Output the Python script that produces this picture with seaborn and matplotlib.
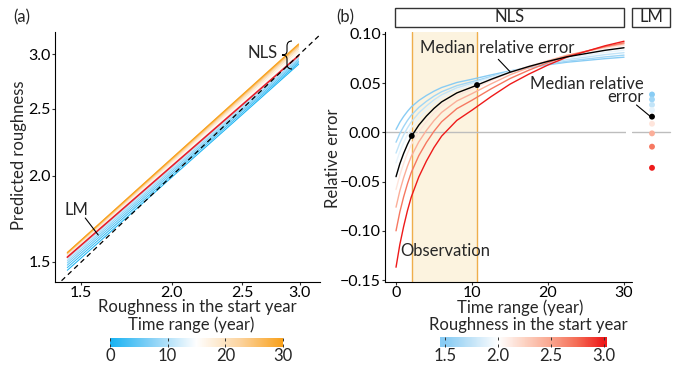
import numpy as np
import pandas as pd
import matplotlib
matplotlib.use("Agg")
import matplotlib.pyplot as plt
import seaborn as sns
from matplotlib.colors import LinearSegmentedColormap, Normalize
from matplotlib.ticker import FixedLocator, FixedFormatter, NullLocator
from matplotlib.patches import Rectangle, PathPatch
from matplotlib.path import Path
from matplotlib.lines import Line2D

# ---------------- data: panel (a) ----------------
a_time = [0, 2, 4, 6, 8, 10, 12, 14, 16, 18, 20, 22, 24, 26, 28, 30]
a_start = [1.435, 2.99]
a_pred_low = [1.459, 1.472, 1.484, 1.495, 1.505, 1.514, 1.521, 1.527,
              1.532, 1.536, 1.539, 1.542, 1.544, 1.546, 1.547, 1.548]
a_pred_high = [2.900, 2.915, 2.930, 2.945, 2.958, 2.970, 2.982, 2.994,
               3.010, 3.030, 3.050, 3.066, 3.080, 3.090, 3.098, 3.104]
lm_line_pred = [1.524, 2.985]
a_ticks = [1.5, 2.0, 2.5, 3.0]
a_ticklabels = ["1.5", "2.0", "2.5", "3.0"]

# ---------------- data: panel (b) ----------------
b_time = [0, 0.5, 1, 1.5, 2, 3, 4, 5, 6, 8, 10, 12.5, 15, 17.5, 20, 22.5, 25, 27.5, 30]
b_roughness = [1.5, 1.6, 1.75, 1.9, 2.15, 2.45, 2.7, 3.0]
err_r150 = [0.0030, 0.0103, 0.0162, 0.0213, 0.0258, 0.0324, 0.0375, 0.0419, 0.0456, 0.0507,
            0.0540, 0.0584, 0.0625, 0.0658, 0.0687, 0.0713, 0.0731, 0.0749, 0.0764]
err_r160 = [-0.0100, -0.0012, 0.0059, 0.0121, 0.0174, 0.0254, 0.0316, 0.0369, 0.0413, 0.0475,
            0.0515, 0.0568, 0.0617, 0.0657, 0.0692, 0.0723, 0.0745, 0.0767, 0.0785]
err_r175 = [-0.0210, -0.0108, -0.0026, 0.0045, 0.0106, 0.0198, 0.0269, 0.0331, 0.0382, 0.0453,
            0.0499, 0.0560, 0.0616, 0.0662, 0.0703, 0.0739, 0.0764, 0.0790, 0.0810]
err_r190 = [-0.0310, -0.0196, -0.0104, -0.0024, 0.0045, 0.0148, 0.0228, 0.0297, 0.0354, 0.0434,
            0.0486, 0.0554, 0.0617, 0.0669, 0.0715, 0.0755, 0.0783, 0.0812, 0.0835]
err_r215 = [-0.0580, -0.0434, -0.0316, -0.0214, -0.0126, 0.0006, 0.0109, 0.0196, 0.0270, 0.0372,
            0.0438, 0.0526, 0.0607, 0.0673, 0.0731, 0.0782, 0.0819, 0.0856, 0.0885]
err_r245 = [-0.0760, -0.0594, -0.0461, -0.0345, -0.0245, -0.0096, 0.0020, 0.0120, 0.0203, 0.0319,
            0.0394, 0.0493, 0.0585, 0.0659, 0.0726, 0.0784, 0.0825, 0.0867, 0.0900]
err_r270 = [-0.1000, -0.0809, -0.0656, -0.0523, -0.0408, -0.0236, -0.0102, 0.0012, 0.0108, 0.0241,
            0.0327, 0.0442, 0.0547, 0.0633, 0.0709, 0.0776, 0.0824, 0.0872, 0.0910]
err_r300 = [-0.1370, -0.1140, -0.0957, -0.0796, -0.0658, -0.0452, -0.0291, -0.0153, -0.0038, 0.0122,
            0.0226, 0.0363, 0.0490, 0.0593, 0.0685, 0.0765, 0.0823, 0.0880, 0.0926]
err_median = [-0.0450, -0.0319, -0.0214, -0.0123, -0.0044, 0.0074, 0.0166, 0.0244, 0.0310, 0.0401,
              0.0460, 0.0539, 0.0611, 0.0670, 0.0722, 0.0768, 0.0801, 0.0834, 0.0860]
obs_bounds = [2.07, 10.66]
median_at_obs = [-0.0036, 0.0481]
lm_err = [0.0385, 0.0335, 0.0280, 0.0226, 0.0088, -0.0010, -0.0145, -0.0360]
lm_median = 0.016
b_xticks = [0, 10, 20, 30]
b_yticks = [0.10, 0.05, 0.00, -0.05, -0.10, -0.15]
b_yticklabels = ["0.10", "0.05", "0.00", "\u22120.05", "\u22120.10", "\u22120.15"]
rough_ticks = [1.5, 2.0, 2.5, 3.0]
rough_ticklabels = ["1.5", "2.0", "2.5", "3.0"]

# ---------------- style ----------------
sns.set_style("white")
plt.rcParams['font.family'] = ['Lato', 'DejaVu Sans']
FS = 12
TFS = 11.5

time_cmap = LinearSegmentedColormap.from_list(
    "time", [(0.0, "#17B3F3"), (0.25, "#8DD3F7"), (0.5, "#FFFFFF"),
             (0.75, "#FCD4A0"), (1.0, "#F9A11B")])
rough_cmap = LinearSegmentedColormap.from_list(
    "rough", [(0.0, "#88CCF4"), (1/6, "#C3E4F8"), (1/3, "#FFFFFF"), (0.5, "#FDD3C3"),
              (2/3, "#FAA68F"), (5/6, "#F56C55"), (1.0, "#EE1A1A")])
rough_norm = Normalize(1.5, 3.0)

W, H = 682, 368
fig = plt.figure(figsize=(W / 100, H / 100), dpi=100)


def rect(x0, y0, x1, y1):
    return [x0 / W, 1 - y1 / H, (x1 - x0) / W, (y1 - y0) / H]


def fp(x, y):
    return (x / W, 1 - y / H)


# ---------------- panel (a) ----------------
ax_a = fig.add_axes(rect(55, 32, 320, 282))
rows = []
for t, lo, hi in zip(a_time, a_pred_low, a_pred_high):
    rows.append({"start": a_start[0], "pred": lo, "time": t})
    rows.append({"start": a_start[1], "pred": hi, "time": t})
df_a = pd.DataFrame(rows)
sns.lineplot(data=df_a, x="start", y="pred", hue="time", palette=time_cmap,
             hue_norm=(0, 30), units="time", estimator=None, legend=False,
             linewidth=0.75, ax=ax_a)
sns.lineplot(x=a_start, y=lm_line_pred, color="#E8202A", linewidth=1.2, ax=ax_a)
ax_a.plot([1.3, 3.5], [1.3, 3.5], color="black", linestyle=(0, (4, 3)), linewidth=0.9)
ax_a.set_xscale("log")
ax_a.set_yscale("log")
ax_a.set_xlim(1.38, 3.2)
ax_a.set_ylim(1.403, 3.23)
for axis in (ax_a.xaxis, ax_a.yaxis):
    axis.set_major_locator(FixedLocator(a_ticks))
    axis.set_major_formatter(FixedFormatter(a_ticklabels))
    axis.set_minor_locator(NullLocator())
ax_a.set_xlabel("")
ax_a.set_ylabel("")
# LM annotation
ax_a.plot([1.519, 1.583], [1.737, 1.641], color="black", linewidth=0.8)
ax_a.text(1.476, 1.784, "LM", fontsize=FS, ha="center", va="center")

# ---------------- panel (b) NLS ----------------
ax_b = fig.add_axes(rect(385, 32, 626, 282))
ax_b.axvspan(obs_bounds[0], obs_bounds[1], facecolor="#FCF3DF", edgecolor="none", zorder=0)
for xb in obs_bounds:
    ax_b.axvline(xb, color="#EFAE4C", linewidth=1.0, zorder=0.5)
ax_b.axhline(0, color="#BDBDBD", linewidth=1.0, zorder=0.6)
curves = [err_r150, err_r160, err_r175, err_r190, err_r215, err_r245, err_r270, err_r300]
rows = []
for r, c in zip(b_roughness, curves):
    for t, v in zip(b_time, c):
        rows.append({"time": t, "err": v, "roughness": r})
df_b = pd.DataFrame(rows)
sns.lineplot(data=df_b, x="time", y="err", hue="roughness", palette=rough_cmap,
             hue_norm=rough_norm, units="roughness", estimator=None, legend=False,
             linewidth=1.0, ax=ax_b)
sns.lineplot(x=b_time, y=err_median, color="black", linewidth=1.0, ax=ax_b)
sns.scatterplot(x=obs_bounds, y=median_at_obs, color="black", s=18, edgecolor="none",
                ax=ax_b, zorder=5)
ax_b.set_xlim(-1.45, 30.26)
ax_b.set_ylim(-0.152, 0.102)
ax_b.xaxis.set_major_locator(FixedLocator(b_xticks))
ax_b.yaxis.set_major_locator(FixedLocator(b_yticks))
ax_b.yaxis.set_major_formatter(FixedFormatter(b_yticklabels))
ax_b.set_xlabel("")
ax_b.set_ylabel("")
ax_b.text(13.29, 0.0858, "Median relative error", fontsize=FS, ha="center", va="center")
ax_b.plot([13.46, 15.0], [0.0742, 0.0617], color="black", linewidth=0.8)
ax_b.text(0.55, -0.121, "Observation", fontsize=FS, ha="left", va="center")

# ---------------- panel (b) LM ----------------
ax_lm = fig.add_axes(rect(632, 32, 672, 282))
ax_lm.axhline(0, color="#BDBDBD", linewidth=1.0, xmin=0, xmax=0.95)
sns.scatterplot(x=[0] * len(lm_err), y=lm_err, hue=b_roughness, palette=rough_cmap,
                hue_norm=rough_norm, s=18, edgecolor="none", legend=False, ax=ax_lm, zorder=3)
sns.scatterplot(x=[0], y=[lm_median], color="black", s=18, edgecolor="none", ax=ax_lm, zorder=4)
ax_lm.set_xlim(-1, 1)
ax_lm.set_ylim(-0.152, 0.102)
ax_lm.axis("off")

# ---------------- axes styling ----------------
for ax in (ax_a, ax_b):
    sns.despine(ax=ax)
    for s in ("left", "bottom"):
        ax.spines[s].set_color("black")
        ax.spines[s].set_linewidth(0.8)
    ax.tick_params(axis="both", direction="out", length=2, width=0.8, color="#333333",
                   labelsize=TFS, labelcolor="black", pad=1, left=True, bottom=True)
fig.add_artist(Line2D([626 / W, 632 / W], [1 - 282 / H, 1 - 282 / H], color="black", linewidth=0.8))

# ---------------- strips ----------------
for (x0, x1, lab) in [(395, 624, "NLS"), (632, 670, "LM")]:
    fig.add_artist(Rectangle(fp(x0, 27), (x1 - x0) / W, 19 / H, transform=fig.transFigure,
                             facecolor="white", edgecolor="#333333", linewidth=1.0))
    fig.text((x0 + x1) / 2 / W, 1 - 17.5 / H, lab, fontsize=FS, ha="center", va="center")

# ---------------- brace + NLS label in (a) ----------------
verts = [fp(292, 41), fp(287, 41), fp(287, 46), fp(287, 51),
         fp(287, 55), fp(282, 55), fp(287, 55), fp(287, 59),
         fp(287, 64), fp(287, 69), fp(292, 69)]
codes = [Path.MOVETO, Path.CURVE3, Path.CURVE3, Path.LINETO,
         Path.CURVE3, Path.CURVE3, Path.CURVE3, Path.CURVE3,
         Path.LINETO, Path.CURVE3, Path.CURVE3]
fig.add_artist(PathPatch(Path(verts, codes), transform=fig.transFigure, facecolor="none",
                         edgecolor="black", linewidth=0.8))
fig.text(278 / W, 1 - 53 / H, "NLS", fontsize=FS, ha="right", va="center")

# ---------------- LM panel annotation ----------------
fig.text(644 / W, 1 - 101.5 / H, "Median relative\nerror", fontsize=FS, ha="right",
         multialignment="right", va="baseline", linespacing=0.72)
fig.add_artist(Line2D([636.5 / W, 651 / W], [1 - 105 / H, 1 - 117 / H], color="black", linewidth=0.8))

# ---------------- labels ----------------
fig.text(13 / W, 1 - 17 / H, "(a)", fontsize=FS, ha="left", va="center")
fig.text(336 / W, 1 - 17 / H, "(b)", fontsize=FS, ha="left", va="center")
fig.text(19 / W, 1 - 155 / H, "Predicted roughness", fontsize=FS, rotation=90, ha="center", va="center")
fig.text(333 / W, 1 - 158 / H, "Relative error", fontsize=FS, rotation=90, ha="center", va="center")
fig.text(197 / W, 1 - 307 / H, "Roughness in the start year", fontsize=FS, ha="center", va="center")
fig.text(520 / W, 1 - 308 / H, "Time range (year)", fontsize=FS, ha="center", va="center")
fig.text(191 / W, 1 - 325 / H, "Time range (year)", fontsize=FS, ha="center", va="center")
fig.text(528 / W, 1 - 325 / H, "Roughness in the start year", fontsize=FS, ha="center", va="center")

# ---------------- colorbars ----------------
def colorbar(box, lo, hi, cmap, norm, ticks, labels):
    cax = fig.add_axes(rect(*box))
    grad = np.linspace(lo, hi, 256)[None, :]
    cax.imshow(grad, aspect="auto", cmap=cmap, norm=norm, extent=[lo, hi, 0, 1])
    cax.set_xlim(lo, hi)
    cax.set_ylim(0, 1)
    cax.set_yticks([])
    cax.set_xticks(ticks)
    cax.set_xticklabels(labels)
    for s in cax.spines.values():
        s.set_visible(False)
    cax.tick_params(axis="x", direction="in", length=2.5, width=0.7, color="#333333",
                    top=True, bottom=True, labelsize=FS, pad=0.5)


colorbar((110, 338, 283, 347), 0, 30, time_cmap, Normalize(0, 30), [0, 10, 20, 30],
         ["0", "10", "20", "30"])
colorbar((440, 337, 607, 347), 1.453, 3.028, rough_cmap, rough_norm, rough_ticks,
         rough_ticklabels)

fig.savefig("out.png", dpi=100)
